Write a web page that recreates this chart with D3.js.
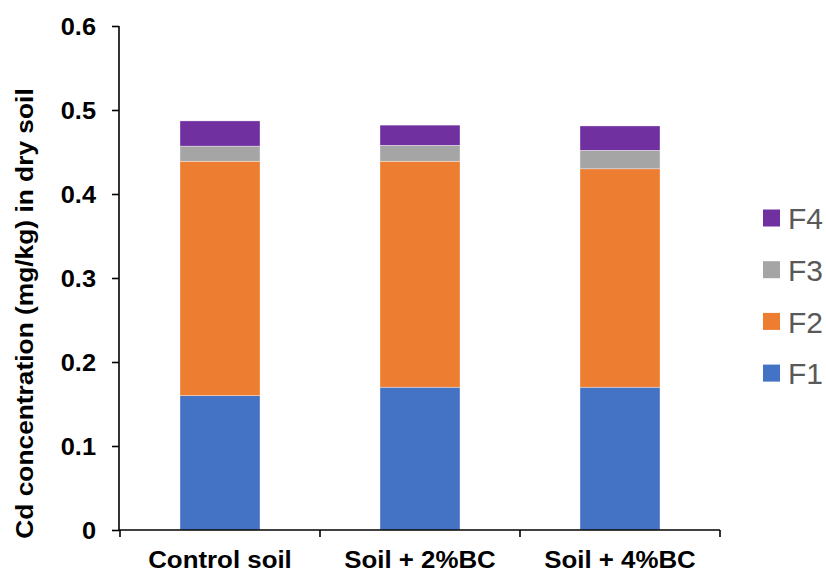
<!DOCTYPE html>
<html><head><meta charset="utf-8">
<script src="https://cdn.jsdelivr.net/npm/d3@7"></script>
<style>body{margin:0;background:#fff}svg{display:block}text{font-family:"Liberation Sans",Arial,sans-serif}</style>
</head><body>
<svg id="c" width="826" height="572"></svg>
<script>
const categories = ["Control soil", "Soil + 2%BC", "Soil + 4%BC"];
const seriesNames = ["F1", "F2", "F3", "F4"];
const F1 = [0.160, 0.170, 0.170];
const F2 = [0.279, 0.269, 0.260];
const F3 = [0.018, 0.019, 0.022];
const F4 = [0.030, 0.024, 0.029];
const colors = ["#4472C4", "#ED7D31", "#A5A5A5", "#7030A0"];
const yTicks = [0, 0.1, 0.2, 0.3, 0.4, 0.5, 0.6];
const yTitle = "Cd concentration (mg/kg) in dry soil";

const svg = d3.select("#c");
const rows = categories.map((c, i) => ({cat: c, F1: F1[i], F2: F2[i], F3: F3[i], F4: F4[i]}));
const stack = d3.stack().keys(seriesNames)(rows);

const x = d3.scaleBand().domain(categories).range([120, 720]).paddingInner(0.6).paddingOuter(0.3);
const y = d3.scaleLinear().domain([0, 0.6]).range([530, 26]);
const color = d3.scaleOrdinal().domain(seriesNames).range(colors);

function stretch(sel, k) {
  sel.each(function() {
    const L = this.getComputedTextLength();
    this.setAttribute("textLength", L * k);
    this.setAttribute("lengthAdjust", "spacingAndGlyphs");
  });
}

// bars
svg.append("g").selectAll("g").data(stack).join("g")
  .attr("fill", d => color(d.key))
  .selectAll("rect").data(d => d).join("rect")
  .attr("x", d => x(d.data.cat))
  .attr("width", x.bandwidth())
  .attr("y", d => y(d[1]))
  .attr("height", d => y(d[0]) - y(d[1]))
  .attr("stroke", "#fff").attr("stroke-opacity", 0.6).attr("stroke-width", 0.6);

// y axis
const ya = svg.append("g").attr("transform", "translate(119,0)")
  .call(d3.axisLeft(y).tickValues(yTicks).tickSize(7).tickPadding(16).tickFormat(d => d === 0 ? "0" : d3.format(".1f")(d)));
ya.select(".domain").attr("stroke", "#000").attr("stroke-width", 1.6).attr("d", `M0,${y(0.6)}V${y(0)}`);
ya.selectAll(".tick line").attr("stroke", "#000").attr("stroke-width", 1.6);
ya.selectAll(".tick text").attr("fill", "#000").attr("font-size", 23.5).attr("font-weight", "bold")
  .attr("font-family", "Liberation Sans, Arial, sans-serif").attr("dy", "0.36em").call(stretch, 1.08);

// x axis
const xa = svg.append("g").attr("transform", "translate(0,530)");
xa.append("path").attr("d", "M119,0H720").attr("stroke", "#000").attr("stroke-width", 1.6).attr("fill", "none");
const bounds = categories.map(c => x(c) - x.step() * x.paddingInner() / 2).concat([x(categories[2]) + x.bandwidth() + x.step() * x.paddingInner() / 2]);
xa.selectAll("line.t").data(bounds).join("line").attr("class", "t")
  .attr("x1", d => d).attr("x2", d => d).attr("y1", 0).attr("y2", 7)
  .attr("stroke", "#000").attr("stroke-width", 1.6);
xa.selectAll("text").data(categories).join("text")
  .attr("x", d => x(d) + x.bandwidth() / 2).attr("y", 37.5)
  .attr("text-anchor", "middle").attr("font-size", 23.5).attr("font-weight", "bold").attr("fill", "#000")
  .text(d => d).call(stretch, 1.1);

// y title
svg.append("text")
  .attr("transform", `translate(33,${(88 + 539) / 2}) rotate(-90)`)
  .attr("text-anchor", "middle").attr("font-size", 23.5).attr("font-weight", "bold").attr("fill", "#000")
  .text(yTitle).call(stretch, 1.12);

// legend
const legendOrder = seriesNames.slice().reverse();
const lg = svg.append("g").selectAll("g").data(legendOrder).join("g")
  .attr("transform", (d, i) => `translate(763,${218 + i * 51.7})`);
lg.append("rect").attr("x", 0).attr("y", -8.5).attr("width", 17).attr("height", 17).attr("fill", d => color(d));
lg.append("text").attr("x", 25).attr("y", 0).attr("dy", "0.37em")
  .attr("font-size", 30).attr("fill", "#595959").text(d => d);
</script>
</body></html>
